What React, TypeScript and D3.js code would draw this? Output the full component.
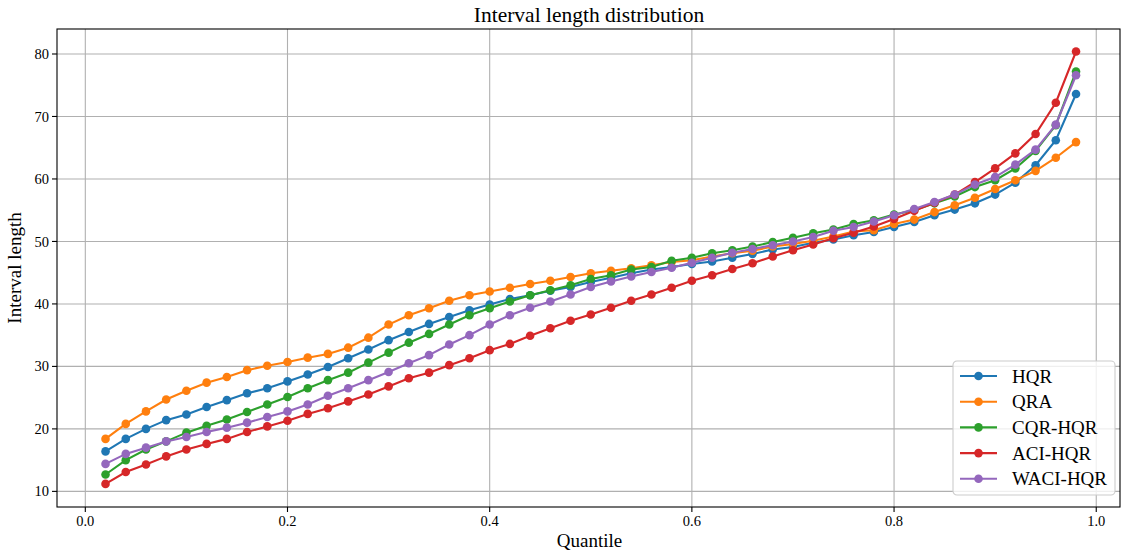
import React from 'react';
import { scaleLinear, line } from 'd3';

const width = 1122;
const height = 554;
const margin = { left: 57, right: 2, top: 29, bottom: 47 };

const quantiles = [
  0.02, 0.04, 0.06, 0.08, 0.1, 0.12, 0.14, 0.16, 0.18, 0.2, 0.22, 0.24, 0.26, 0.28, 0.3, 0.32, 0.34,
  0.36, 0.38, 0.4, 0.42, 0.44, 0.46, 0.48, 0.5, 0.52, 0.54, 0.56, 0.58, 0.6, 0.62, 0.64, 0.66, 0.68,
  0.7, 0.72, 0.74, 0.76, 0.78, 0.8, 0.82, 0.84, 0.86, 0.88, 0.9, 0.92, 0.94, 0.96, 0.98,
];

const hqr = [
  16.4, 18.4, 20.0, 21.4, 22.3, 23.5, 24.6, 25.7, 26.5, 27.6, 28.7, 29.9, 31.3, 32.7, 34.2, 35.5, 36.8,
  37.9, 39.0, 39.9, 40.8, 41.4, 42.1, 42.7, 43.5, 44.2, 44.9, 45.5, 45.9, 46.4, 46.8, 47.4, 48.0, 48.7,
  49.1, 49.8, 50.3, 51.0, 51.5, 52.3, 53.1, 54.2, 55.1, 56.1, 57.5, 59.4, 62.2, 66.2, 73.6,
];
const qra = [
  18.4, 20.8, 22.8, 24.7, 26.1, 27.4, 28.3, 29.4, 30.1, 30.7, 31.4, 32.0, 33.0, 34.6, 36.7, 38.2, 39.3,
  40.5, 41.4, 42.0, 42.6, 43.2, 43.7, 44.3, 44.9, 45.3, 45.7, 46.2, 46.7, 47.0, 47.6, 48.1, 48.5, 49.2,
  49.6, 50.1, 50.8, 51.6, 51.8, 52.8, 53.5, 54.7, 55.8, 57.0, 58.4, 59.8, 61.3, 63.4, 65.9,
];
const cqrHqr = [
  12.7, 15.0, 16.7, 18.0, 19.4, 20.5, 21.5, 22.7, 23.9, 25.1, 26.5, 27.8, 29.0, 30.6, 32.2, 33.8, 35.2,
  36.7, 38.2, 39.3, 40.4, 41.4, 42.2, 43.0, 44.0, 44.6, 45.5, 45.9, 46.9, 47.4, 48.1, 48.6, 49.2, 49.9,
  50.6, 51.3, 51.9, 52.8, 53.4, 54.3, 55.0, 56.1, 57.2, 58.7, 59.8, 61.7, 64.5, 68.6, 77.2,
];
const aciHqr = [
  11.2, 13.1, 14.3, 15.6, 16.7, 17.6, 18.4, 19.5, 20.4, 21.3, 22.4, 23.3, 24.4, 25.5, 26.8, 28.1, 29.0,
  30.2, 31.3, 32.6, 33.6, 34.9, 36.1, 37.3, 38.3, 39.4, 40.5, 41.5, 42.6, 43.7, 44.6, 45.6, 46.5, 47.6,
  48.6, 49.5, 50.5, 51.4, 52.4, 53.6, 54.9, 56.2, 57.5, 59.5, 61.7, 64.1, 67.2, 72.2, 80.4,
];
const waciHqr = [
  14.4, 16.0, 17.0, 18.0, 18.7, 19.5, 20.2, 21.0, 21.9, 22.8, 23.9, 25.3, 26.5, 27.8, 29.1, 30.5, 31.8,
  33.5, 35.0, 36.7, 38.2, 39.4, 40.4, 41.5, 42.7, 43.6, 44.4, 45.1, 45.8, 46.6, 47.4, 48.2, 48.8, 49.4,
  50.0, 50.7, 51.7, 52.3, 53.2, 54.2, 55.2, 56.3, 57.5, 59.1, 60.3, 62.3, 64.7, 68.7, 76.6,
];

const seriesNames = ['HQR', 'QRA', 'CQR-HQR', 'ACI-HQR', 'WACI-HQR'];
const seriesValues = [hqr, qra, cqrHqr, aciHqr, waciHqr];
const colors = ['#1f77b4', '#ff7f0e', '#2ca02c', '#d62728', '#9467bd'];

const xTicks = [0, 0.2, 0.4, 0.6, 0.8, 1.0];
const yTicks = [10, 20, 30, 40, 50, 60, 70, 80];

const font = '"Liberation Serif", "DejaVu Serif", serif';

const App = () => {
  const innerW = width - margin.left - margin.right;
  const innerH = height - margin.top - margin.bottom;

  const x = scaleLinear().domain([-0.028, 1.0235]).range([0, innerW]);
  const y = scaleLinear().domain([7.5, 84.0]).range([innerH, 0]);

  const path = line<number>()
    .x((_, i) => x(quantiles[i]))
    .y((d) => y(d));

  const legendX = innerW - 167;
  const legendY = innerH - 146;

  return (
    <svg width={width} height={height} style={{ position: 'absolute', left: 0, top: 0 }}>
      <rect width={width} height={height} fill="white" />
      <text x={589} y={22} textAnchor="middle" fontFamily={font} fontSize={21.5}>
        Interval length distribution
      </text>
      <g transform={`translate(${margin.left}, ${margin.top})`}>
        {xTicks.map((t) => (
          <line key={'gx' + t} x1={x(t)} x2={x(t)} y1={0} y2={innerH} stroke="#b0b0b0" strokeWidth={1.1} />
        ))}
        {yTicks.map((t) => (
          <line key={'gy' + t} x1={0} x2={innerW} y1={y(t)} y2={y(t)} stroke="#b0b0b0" strokeWidth={1.1} />
        ))}

        {seriesValues.map((vals, s) => (
          <g key={seriesNames[s]}>
            <path d={path(vals) || ''} fill="none" stroke={colors[s]} strokeWidth={2.1} />
            {vals.map((v, i) => (
              <circle key={i} cx={x(quantiles[i])} cy={y(v)} r={4.3} fill={colors[s]} />
            ))}
          </g>
        ))}

        <rect x={0} y={0} width={innerW} height={innerH} fill="none" stroke="black" strokeWidth={1.1} />

        {xTicks.map((t) => (
          <g key={'xt' + t} transform={`translate(${x(t)}, ${innerH})`}>
            <line y1={0} y2={5} stroke="black" strokeWidth={1.1} />
            <text y={19} textAnchor="middle" fontFamily={font} fontSize={14.5}>
              {t.toFixed(1)}
            </text>
          </g>
        ))}
        {yTicks.map((t) => (
          <g key={'yt' + t} transform={`translate(0, ${y(t)})`}>
            <line x1={0} x2={-5} stroke="black" strokeWidth={1.1} />
            <text x={-8} dy="0.35em" textAnchor="end" fontFamily={font} fontSize={14.5}>
              {t}
            </text>
          </g>
        ))}

        <text x={innerW / 2 + 1} y={innerH + 40} textAnchor="middle" fontFamily={font} fontSize={19}>
          Quantile
        </text>
        <text
          transform={`translate(${-36}, ${innerH / 2}) rotate(-90)`}
          textAnchor="middle"
          fontFamily={font}
          fontSize={19}
        >
          Interval length
        </text>

        <g transform={`translate(${legendX}, ${legendY})`}>
          <rect x={0} y={0} width={162} height={134} rx={4} fill="white" fillOpacity={0.8} stroke="#cccccc" strokeWidth={1.1} />
          {seriesNames.map((name, i) => (
            <g key={name} transform={`translate(0, ${15 + i * 25.7})`}>
              <line x1={7} x2={44} stroke={colors[i]} strokeWidth={2.1} />
              <circle cx={25.5} cy={0} r={4.3} fill={colors[i]} />
              <text x={59} dy="0.35em" fontFamily={font} fontSize={19}>
                {name}
              </text>
            </g>
          ))}
        </g>
      </g>
    </svg>
  );
};

export default App;
